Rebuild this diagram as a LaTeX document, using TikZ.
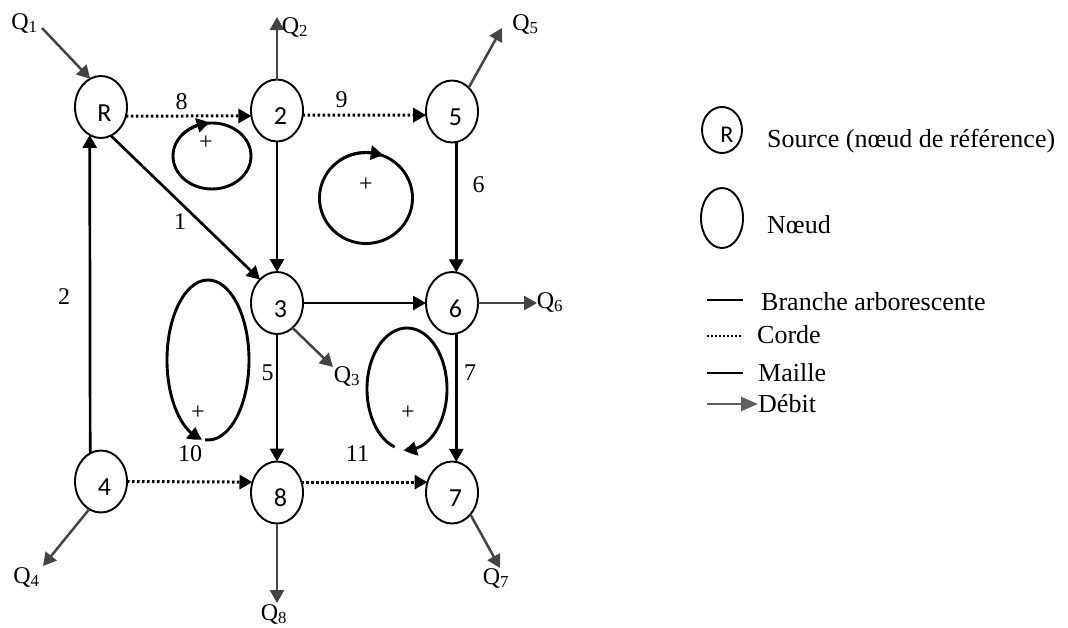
\documentclass[tikz,border=0pt]{standalone}
\usepackage{fontspec}
\setmainfont{Liberation Serif}
\newfontfamily\nodefont{Carlito}
\usetikzlibrary{arrows.meta,shapes.geometric,bending}

\definecolor{flowgray}{RGB}{68,68,68}
\newcommand{\nodetxt}[1]{\hspace*{7pt}#1}

\begin{document}
\begin{tikzpicture}[x=1pt,y=1pt,
  junction/.style={ellipse, draw, line width=1.9pt, minimum width=52pt, minimum height=62pt,
    inner sep=0pt, outer sep=0pt, text height=28pt, text depth=0pt,
    font=\nodefont\fontsize{26}{30}\selectfont},
  tip/.style={-{Triangle[length=13pt,width=14pt]}},
  tree/.style={line width=2.7pt, tip},
  chord/.style={line width=3pt, dash pattern=on 2.5pt off 2.5pt, tip},
  flow/.style={draw=flowgray, line width=2.5pt, -{Triangle[length=13pt,width=14pt]}, flowgray},
  meshloop/.style={line width=2.9pt},
  meshtip/.style={line width=2.9pt, -{Triangle[length=13pt,width=14pt,bend]}},
  lbl/.style={font=\fontsize{24}{28}\selectfont, inner sep=0pt},
  legtext/.style={font=\fontsize{26}{30}\selectfont, inner sep=0pt, anchor=base west}
]
\useasboundingbox (0,0) rectangle (1068,-627);

% junctions
\node[junction] (R)  at (101,-107)   {\nodetxt{R}};
\node[junction] (n2) at (277,-110.5) {\nodetxt{2}};
\node[junction] (n5) at (452,-111.5) {\nodetxt{5}};
\node[junction] (n3) at (277,-303)   {\nodetxt{3}};
\node[junction] (n6) at (452,-303)   {\nodetxt{6}};
\node[junction] (n4) at (101,-481.5) {\nodetxt{4}};
\node[junction] (n8) at (277,-492.5) {\nodetxt{8}};
\node[junction] (n7) at (452,-492.5) {\nodetxt{7}};

% chords (dotted)
\draw[chord] (R.-20)  -- (n2.192);
\draw[chord] (n2.-10) -- (n5.188);
\draw[chord] (n4.east) -- (n8.157);
\draw[chord] (n8.23)  -- (n7.157);

% tree branches
\draw[tree] (n4.111.4) -- (R.248.6);
\draw[tree] (R.-71) -- (n3.126.5);
\draw[tree] (n2.south) -- (n3.north);
\draw[tree] (n5.-82.5) -- (n6.82.5);
\draw[tree] (n3.east) -- (n6.west);
\draw[tree] (n3.south) -- (n8.north);
\draw[tree] (n6.-82.5) -- (n7.82.5);

% branch numbers
\node[lbl] (b8)  at (181.5,-102) {8};
\node[lbl] (b9)  at (341.5,-100) {9};
\node[lbl] (b6)  at (478.5,-185) {6};
\node[lbl] (b1)  at (180,-222)   {1};
\node[lbl] (b2)  at (64,-297)    {2};
\node[lbl] (b5)  at (267.5,-373) {5};
\node[lbl] (b7)  at (470,-373)   {7};
\node[lbl] (b10) at (190,-454)   {10};
\node[lbl] (b11) at (357.5,-454) {11};

% flows
\coordinate (q1s) at (42,-28);
\coordinate (q2e) at (277,-17);
\coordinate (q5e) at (502,-28);
\coordinate (q6e) at (537,-303);
\coordinate (q3e) at (333,-367);
\coordinate (q7e) at (500,-568);
\coordinate (q8e) at (277,-603);
\coordinate (q4e) at (43,-566);
\draw[flow] (q1s) -- (R.111);
\draw[flow] (n2.north) -- (q2e);
\draw[flow] (n5.55) -- (q5e);
\draw[flow] (n6.east) -- (q6e);
\draw[flow] (n3.-58) -- (q3e);
\draw[flow] (n7.-50.6) -- (q7e);
\draw[flow] (n8.south) -- (q8e);
\draw[flow] (n4.247) -- (q4e);

\node[lbl] (Q1) at (24.5,-23) {Q\textsubscript{1}};
\node[lbl] (Q2) at (295,-27)  {Q\textsubscript{2}};
\node[lbl] (Q5) at (525.5,-24) {Q\textsubscript{5}};
\node[lbl] (Q6) at (550,-302) {Q\textsubscript{6}};
\node[lbl] (Q3) at (347,-376) {Q\textsubscript{3}};
\node[lbl] (Q4) at (26.5,-577) {Q\textsubscript{4}};
\node[lbl] (Q8) at (274,-614) {Q\textsubscript{8}};
\node[lbl] (Q7) at (496,-578) {Q\textsubscript{7}};

% mesh loops
\draw[meshloop] (212,-156) ellipse [x radius=39pt, y radius=33pt];
\draw[meshtip] (212,-156) ++(140:39pt and 33pt) arc[start angle=140, end angle=93, x radius=39pt, y radius=33pt];
\node[lbl] (p1) at (206,-143) {+};

\draw[meshloop] (366,-198) ellipse [x radius=46.5pt, y radius=45.5pt];
\draw[meshtip] (366,-198) ++(125:46.5pt and 45.5pt) arc[start angle=125, end angle=68, x radius=46.5pt, y radius=45.5pt];
\node[lbl] (p2) at (366,-185) {+};

\draw[meshtip] (208,-360) ++(-94:41pt and 80pt) arc[start angle=-94, end angle=262, x radius=41pt, y radius=80pt];
\node[lbl] (p3) at (198,-413) {+};

\draw[meshtip] (407,-389) ++(252:40pt and 61pt) arc[start angle=252, end angle=-95, x radius=40pt, y radius=61pt];
\node[lbl] (p4) at (408,-413) {+};

% legend
\node[junction, minimum width=40pt, minimum height=46pt, text height=24pt, font=\nodefont\fontsize{24}{28}\selectfont] (legR) at (722,-130) {\hspace*{10pt}R};
\node[legtext] (legRt) at (767,-147) {Source (nœud de référence)};
\node[junction, minimum width=42pt, minimum height=60pt] (legN) at (722,-218) {};
\node[legtext] (legNt) at (767,-233) {Nœud};

\coordinate (lb1) at (707,-300); \coordinate (lb2) at (743,-300);
\draw[line width=2.7pt] (lb1) -- (lb2);
\node[legtext] (legB) at (761,-310) {Branche arborescente};

\coordinate (lc1) at (707,-336); \coordinate (lc2) at (743,-336);
\draw[line width=1.5pt, dash pattern=on 1.5pt off 2.5pt] (lc1) -- (lc2);
\node[legtext] (legC) at (757,-343) {Corde};

\coordinate (lm1) at (707,-373); \coordinate (lm2) at (743,-373);
\draw[line width=1.5pt] (lm1) -- (lm2);
\node[legtext] (legM) at (758,-381) {Maille};

\coordinate (ld1) at (707,-404); \coordinate (ld2) at (758,-404);
\draw[draw=flowgray!85, line width=2.2pt, -{Triangle[length=17pt,width=14pt]}, fill=flowgray!85] (ld1) -- (ld2);
\node[legtext] (legD) at (758,-412) {Débit};
\end{tikzpicture}
\end{document}
